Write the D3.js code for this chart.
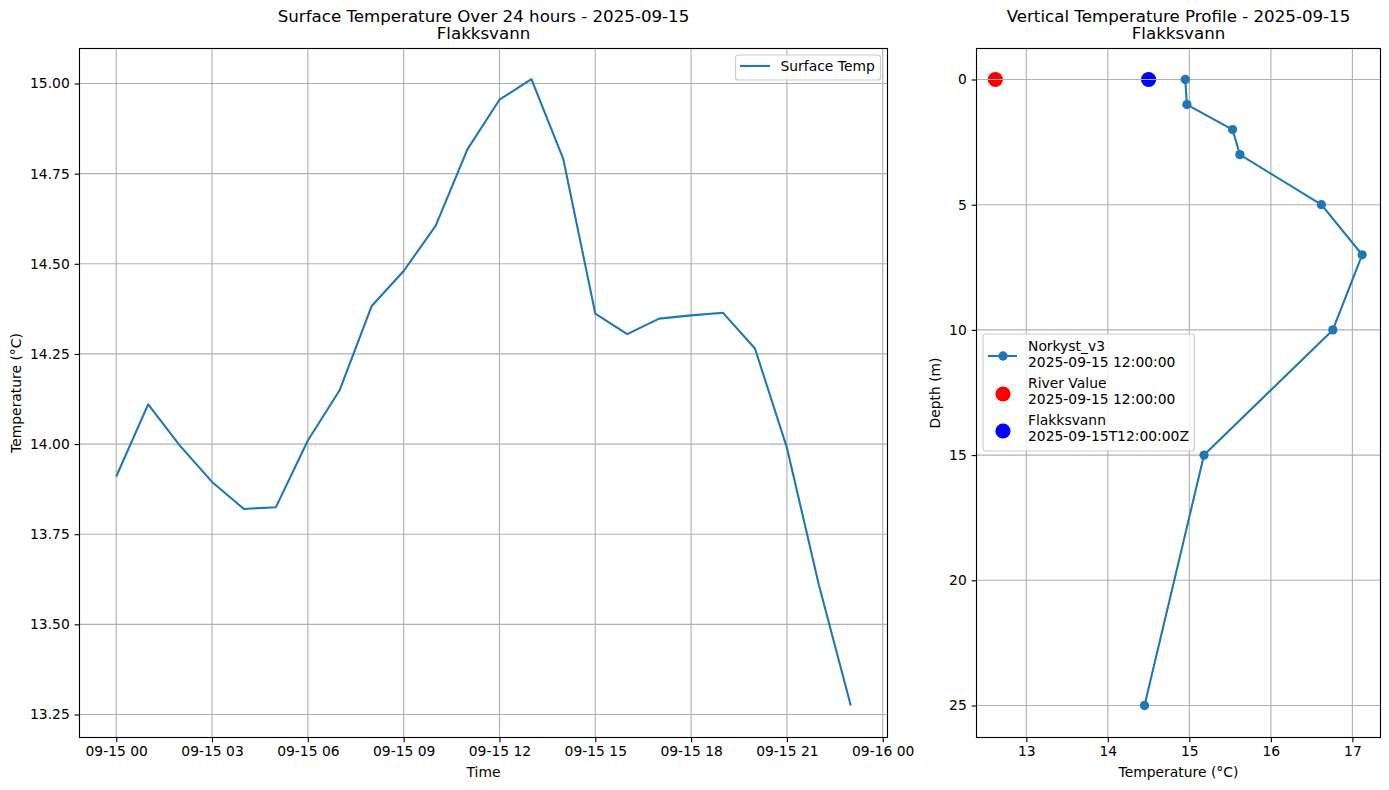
<!DOCTYPE html>
<html><head><meta charset="utf-8">
<script src="https://cdn.jsdelivr.net/npm/d3@7/dist/d3.min.js"></script>
<style>
html,body{margin:0;padding:0;background:#fff}
svg{display:block}
text{font-family:"DejaVu Sans",sans-serif;fill:#000}
</style></head><body><svg id="c" width="1389" height="790"></svg>
<script>
const hours=d3.range(0,24);
const surfaceTemps=[13.91,14.11,13.995,13.895,13.82,13.825,14.01,14.15,14.383,14.48,14.605,14.818,14.955,15.012,14.79,14.362,14.305,14.348,14.357,14.364,14.265,13.99,13.61,13.275];
const xTickHours=[0,3,6,9,12,15,18,21,24];
const xTickLabels=["09-15 00","09-15 03","09-15 06","09-15 09","09-15 12","09-15 15","09-15 18","09-15 21","09-16 00"];
const yTicksLeft=[13.25,13.5,13.75,14,14.25,14.5,14.75,15];
const depths=[0,1,2,3,5,7,10,15,25];
const profileTemps=[14.95,14.97,15.53,15.62,16.62,17.12,16.76,15.18,14.45];
const riverPoint={t:12.62,d:0};
const lakePoint={t:14.5,d:0};
const xTicksRight=[13,14,15,16,17];
const yTicksRight=[0,5,10,15,20,25];
const titleDate="2025-09-15", siteName="Flakksvann";
const profileLegend=[["Norkyst_v3","2025-09-15 12:00:00"],["River Value","2025-09-15 12:00:00"],["Flakksvann","2025-09-15T12:00:00Z"]];

const BLUE="#1f77b4",GRID="#b0b0b0",FS=13.89,TFS=16.67;
const svg=d3.select("#c");

function panel(L,R,T,B,xs,ys,xTicks,xFmt,yTicks,yFmt,xLab,yLab,yLabX,title){
  const g=svg.append("g");
  const grid=g.append("g");
  xTicks.forEach(v=>grid.append("line").attr("x1",xs(v)).attr("x2",xs(v)).attr("y1",T).attr("y2",B).attr("stroke",GRID).attr("stroke-width",1.11));
  yTicks.forEach(v=>grid.append("line").attr("x1",L).attr("x2",R).attr("y1",ys(v)).attr("y2",ys(v)).attr("stroke",GRID).attr("stroke-width",1.11));
  const over=svg.append("g");
  const axes=svg.append("g");
  const ax=axes.append("g").attr("transform",`translate(0,${B})`).call(d3.axisBottom(xs).tickValues(xTicks).tickFormat(xFmt).tickSizeOuter(0).tickSize(4.86).tickPadding(4.0));
  const ay=axes.append("g").attr("transform",`translate(${L},0)`).call(d3.axisLeft(ys).tickValues(yTicks).tickFormat(yFmt).tickSizeOuter(0).tickSize(4.86).tickPadding(4.9));
  [ax,ay].forEach(a=>{a.select(".domain").remove();a.selectAll("line").attr("stroke","#000").attr("stroke-width",1.11);a.selectAll("text").attr("font-size",FS).attr("font-family","DejaVu Sans").attr("fill","#000");});
  axes.append("rect").attr("x",L).attr("y",T).attr("width",R-L).attr("height",B-T).attr("fill","none").attr("stroke","#000").attr("stroke-width",1.11);
  const cx=(L+R)/2;
  axes.append("text").attr("x",cx).attr("y",B+39).attr("text-anchor","middle").attr("font-size",FS).text(xLab);
  axes.append("text").attr("transform",`translate(${yLabX},${(T+B)/2}) rotate(-90)`).attr("text-anchor","middle").attr("font-size",FS).text(yLab);
  axes.append("text").attr("x",cx).attr("y",T-26.5).attr("text-anchor","middle").attr("font-size",TFS).text(title[0]);
  axes.append("text").attr("x",cx).attr("y",T-9.2).attr("text-anchor","middle").attr("font-size",TFS).text(title[1]);
  return {g,grid,over,axes};
}

/* left */
const xL=d3.scaleLinear().domain([-1.15,24.15]).range([79.5,887.5]);
const yL=d3.scaleLinear().domain([13.1883,15.0967]).range([736.75,48.63]);
const pL=panel(79.5,887.5,48.5,737.5,xL,yL,xTickHours,(d,i)=>xTickLabels[i],yTicksLeft,d3.format(".2f"),"Time","Temperature (°C)",20.5,
  [`Surface Temperature Over 24 hours - ${titleDate}`,siteName]);
pL.over.append("path").datum(hours).attr("fill","none").attr("stroke",BLUE).attr("stroke-width",2.08).attr("stroke-linejoin","round")
  .attr("d",d3.line().x(h=>xL(h)).y((h,i)=>yL(surfaceTemps[i])));
const lg1=pL.axes.append("g");
lg1.append("rect").attr("x",735.5).attr("y",55).attr("width",145).attr("height",25).attr("rx",2.8).attr("fill","#fff").attr("fill-opacity",.8).attr("stroke","#ccc").attr("stroke-width",1.11);
lg1.append("line").attr("x1",740).attr("x2",770).attr("y1",66).attr("y2",66).attr("stroke",BLUE).attr("stroke-width",2.08);
lg1.append("text").attr("x",780.5).attr("y",71).attr("font-size",FS).text("Surface Temp");

/* right */
const xR=d3.scaleLinear().domain([12.395,17.345]).range([977,1380.5]);
const yR=d3.scaleLinear().domain([-1.25,26.25]).range([48.2,736.8]);
const under=svg.insert("g",":first-child");
const pR=panel(976.5,1380.5,48.5,737.5,xR,yR,xTicksRight,d3.format("d"),yTicksRight,d3.format("d"),"Temperature (°C)","Depth (m)",939.5,
  [`Vertical Temperature Profile - ${titleDate}`,siteName]);
[[riverPoint,"#f00"],[lakePoint,"#00f"]].forEach(([p,c])=>under.append("circle").attr("cx",xR(p.t)).attr("cy",yR(p.d)).attr("r",7.6).attr("fill",c));
pR.over.append("path").datum(depths).attr("fill","none").attr("stroke",BLUE).attr("stroke-width",2.08).attr("stroke-linejoin","round")
  .attr("d",d3.line().x((d,i)=>xR(profileTemps[i])).y(d=>yR(d)));
pR.over.selectAll("circle").data(depths).join("circle").attr("cx",(d,i)=>xR(profileTemps[i])).attr("cy",d=>yR(d)).attr("r",4.65).attr("fill",BLUE);
const lg2=pR.axes.append("g");
lg2.append("rect").attr("x",983).attr("y",334).attr("width",211.5).attr("height",117).attr("rx",2.8).attr("fill","#fff").attr("fill-opacity",.8).attr("stroke","#ccc").attr("stroke-width",1.11);
const rowY=[356,394,431];
const textY=[351,388,425];
profileLegend.forEach((r,i)=>{
  lg2.append("text").attr("x",1028).attr("y",textY[i]).attr("font-size",FS).text(r[0]);
  lg2.append("text").attr("x",1028).attr("y",textY[i]+16).attr("font-size",FS).text(r[1]);
});
lg2.append("line").attr("x1",988).attr("x2",1017).attr("y1",rowY[0]).attr("y2",rowY[0]).attr("stroke",BLUE).attr("stroke-width",2.08);
lg2.append("circle").attr("cx",1003).attr("cy",rowY[0]).attr("r",4.65).attr("fill",BLUE);
lg2.append("circle").attr("cx",1003).attr("cy",rowY[1]).attr("r",7.6).attr("fill","#f00");
lg2.append("circle").attr("cx",1003).attr("cy",rowY[2]).attr("r",7.6).attr("fill","#00f");
</script></body></html>
